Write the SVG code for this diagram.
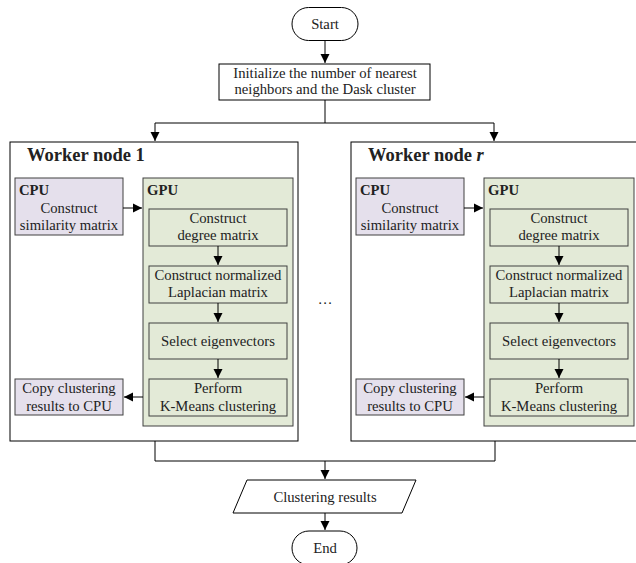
<svg xmlns="http://www.w3.org/2000/svg" width="636" height="563" viewBox="0 0 636 563">
<defs>
<marker id="ah" markerWidth="10" markerHeight="10" refX="9" refY="5" orient="auto" markerUnits="userSpaceOnUse">
<path d="M0,0.5 L9,5 L0,9.5 Z" fill="#000"/>
</marker>
<style>
text{font-family:"Liberation Serif","Times New Roman",serif;font-size:14.7px;fill:#222}
.c{text-anchor:middle}
.b{font-weight:bold}
.t{font-size:18.5px;font-weight:bold;fill:#222}
.box{fill:#fff;stroke:#000;stroke-width:1}
.cpu{fill:#e5e0ec;stroke:#404040;stroke-width:1}
.gpu{fill:#e3ead7;stroke:#404040;stroke-width:1}
.ln{fill:none;stroke:#000;stroke-width:1}
</style>
</defs>
<rect width="636" height="563" fill="#fff"/>
<g id="start">
<rect class="box" x="292" y="7.5" width="66" height="33" rx="16.5"/>
<text class="c" x="325" y="29">Start</text>
</g>
<g id="init">
<rect class="box" x="219" y="64" width="211" height="36"/>
<text class="c" x="325" y="78">Initialize the number of nearest</text>
<text class="c" x="325" y="94">neighbors and the Dask cluster</text>
</g>
<g id="worker1">
<rect class="box" x="10" y="142" width="288" height="299"/>
<text class="t" x="27" y="161">Worker node 1</text>
</g>
<g id="cpu1">
<rect class="cpu" x="15" y="178" width="108" height="57"/>
<text class="b" x="19" y="195">CPU</text>
<text class="c" x="69" y="213">Construct</text>
<text class="c" x="69" y="230">similarity matrix</text>
</g>
<g id="gpu1">
<rect class="gpu" x="143" y="178" width="150" height="248"/>
<text class="b" x="147" y="195">GPU</text>
</g>
<g id="degree1">
<rect class="gpu" x="149" y="209" width="138" height="37"/>
<text class="c" x="218" y="223">Construct</text>
<text class="c" x="218" y="240">degree matrix</text>
</g>
<g id="laplacian1">
<rect class="gpu" x="149" y="266" width="138" height="37"/>
<text class="c" x="218" y="280">Construct normalized</text>
<text class="c" x="218" y="297">Laplacian matrix</text>
</g>
<g id="eigen1">
<rect class="gpu" x="149" y="323" width="138" height="36"/>
<text class="c" x="218" y="346">Select eigenvectors</text>
</g>
<g id="kmeans1">
<rect class="gpu" x="149" y="379" width="138" height="37"/>
<text class="c" x="218" y="393">Perform</text>
<text class="c" x="218" y="411">K-Means clustering</text>
</g>
<g id="copy1">
<rect class="cpu" x="15" y="379" width="108" height="36"/>
<text class="c" x="69" y="393">Copy clustering</text>
<text class="c" x="69" y="411">results to CPU</text>
</g>
<g id="dots">
<text class="c" x="325" y="304">…</text>
</g>
<g id="workerr">
<rect class="box" x="351" y="142" width="288" height="299"/>
<text class="t" x="368" y="161">Worker node <tspan font-style="italic">r</tspan></text>
</g>
<g id="cpur">
<rect class="cpu" x="356" y="178" width="108" height="57"/>
<text class="b" x="360" y="195">CPU</text>
<text class="c" x="410" y="213">Construct</text>
<text class="c" x="410" y="230">similarity matrix</text>
</g>
<g id="gpur">
<rect class="gpu" x="484" y="178" width="150" height="248"/>
<text class="b" x="488" y="195">GPU</text>
</g>
<g id="degreer">
<rect class="gpu" x="490" y="209" width="138" height="37"/>
<text class="c" x="559" y="223">Construct</text>
<text class="c" x="559" y="240">degree matrix</text>
</g>
<g id="laplacianr">
<rect class="gpu" x="490" y="266" width="138" height="37"/>
<text class="c" x="559" y="280">Construct normalized</text>
<text class="c" x="559" y="297">Laplacian matrix</text>
</g>
<g id="eigenr">
<rect class="gpu" x="490" y="323" width="138" height="36"/>
<text class="c" x="559" y="346">Select eigenvectors</text>
</g>
<g id="kmeansr">
<rect class="gpu" x="490" y="379" width="138" height="37"/>
<text class="c" x="559" y="393">Perform</text>
<text class="c" x="559" y="411">K-Means clustering</text>
</g>
<g id="copyr">
<rect class="cpu" x="356" y="379" width="108" height="36"/>
<text class="c" x="410" y="393">Copy clustering</text>
<text class="c" x="410" y="411">results to CPU</text>
</g>
<g id="results">
<polygon class="box" points="247,480 416,480 402,513 233,513"/>
<text class="c" x="325" y="502">Clustering results</text>
</g>
<g id="end">
<rect class="box" x="292" y="531" width="65" height="34" rx="17"/>
<text class="c" x="325" y="553">End</text>
</g>
<g id="connectors">
<path class="ln" d="M325,40.5 V63" marker-end="url(#ah)"/>
<path class="ln" d="M325,100 V123 H155 V141" marker-end="url(#ah)"/>
<path class="ln" d="M325,123 H494 V141" marker-end="url(#ah)"/>
<path class="ln" d="M155,441 V461 H495 V441"/>
<path class="ln" d="M325,461 V479" marker-end="url(#ah)"/>
<path class="ln" d="M325,513 V530" marker-end="url(#ah)"/>
<path class="ln" d="M123,208 H142" marker-end="url(#ah)"/>
<path class="ln" d="M218,246 V265" marker-end="url(#ah)"/>
<path class="ln" d="M218,303 V322" marker-end="url(#ah)"/>
<path class="ln" d="M218,359 V378" marker-end="url(#ah)"/>
<path class="ln" d="M143,397 H124" marker-end="url(#ah)"/>
<path class="ln" d="M464,208 H483" marker-end="url(#ah)"/>
<path class="ln" d="M559,246 V265" marker-end="url(#ah)"/>
<path class="ln" d="M559,303 V322" marker-end="url(#ah)"/>
<path class="ln" d="M559,359 V378" marker-end="url(#ah)"/>
<path class="ln" d="M484,397 H465" marker-end="url(#ah)"/>
</g>
</svg>
